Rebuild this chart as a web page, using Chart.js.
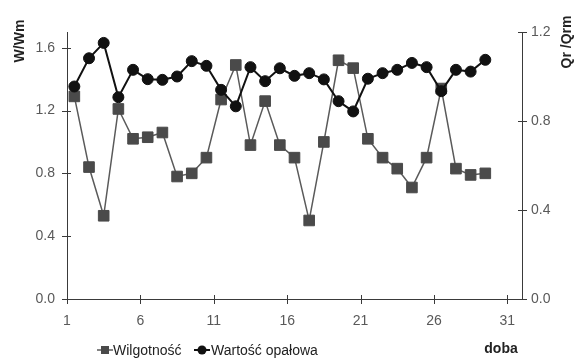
<!DOCTYPE html>
<html>
<head>
<meta charset="utf-8">
<script src="https://cdn.jsdelivr.net/npm/chart.js@4"></script>
<style>
  body { margin: 0; background: #fff; }
  #wrap { width: 577px; height: 361px; }
</style>
</head>
<body>
<div id="wrap"><canvas id="chart" width="577" height="361"></canvas></div>
<script>
// dni pomiaru
const days = [1, 2, 3, 4, 5, 6, 7, 8, 9, 10, 11, 12, 13, 14, 15, 16, 17, 18, 19, 20,
              21, 22, 23, 24, 25, 26, 27, 28, 29];
// W/Wm (oś lewa)
const wilgotnosc = [1.29, 0.84, 0.53, 1.21, 1.02, 1.03, 1.06, 0.78, 0.80, 0.90,
                    1.27, 1.49, 0.98, 1.26, 0.98, 0.90, 0.50, 1.00, 1.52, 1.47,
                    1.02, 0.90, 0.83, 0.71, 0.90, 1.34, 0.83, 0.79, 0.80];
// Qr/Qrm (oś prawa)
const wartoscOpalowa = [0.955, 1.082, 1.151, 0.907, 1.030, 0.988, 0.985, 1.000, 1.069, 1.048,
                        0.940, 0.866, 1.042, 0.979, 1.037, 1.003, 1.015, 0.987, 0.889, 0.843,
                        0.990, 1.015, 1.030, 1.061, 1.042, 0.934, 1.030, 1.022, 1.075];
const xTicks = [1, 6, 11, 16, 21, 26, 31];
const leftTicks = [0, 0.4, 0.8, 1.2, 1.6];
const rightTicks = [0, 0.4, 0.8, 1.2];

const FONT = "'Liberation Sans', Arial, sans-serif";
const tickColor = "#595959";
const axisColor = "#3a3a3a";

// dzień d leży w środku przedziału [d-0.5, d+0.5]
const toPoints = vals => days.map((d, i) => ({ x: d, y: vals[i] }));

// krzyżujące się znaczniki osi, tytuły osi i legenda
const decorations = {
    id: "decorations",
    afterDraw(chart) {
        const ctx = chart.ctx;
        const a = chart.chartArea;
        const { x, yL, yR } = chart.scales;
        ctx.save();
        ctx.strokeStyle = axisColor;
        ctx.lineWidth = 1;
        ctx.beginPath();
        x.ticks.forEach(t => {
            const px = Math.round(x.getPixelForValue(t.value)) + 0.5;
            ctx.moveTo(px, a.bottom - 4);
            ctx.lineTo(px, a.bottom + 5);
        });
        yL.ticks.forEach(t => {
            const py = Math.round(yL.getPixelForValue(t.value)) + 0.5;
            ctx.moveTo(a.left - 5, py);
            ctx.lineTo(a.left + 4, py);
        });
        yR.ticks.forEach(t => {
            const py = Math.round(yR.getPixelForValue(t.value)) + 0.5;
            ctx.moveTo(a.right - 4, py);
            ctx.lineTo(a.right + 5, py);
        });
        ctx.stroke();

        // tytuły osi
        ctx.fillStyle = "#222";
        ctx.font = "bold 14px " + FONT;
        ctx.textAlign = "center";
        ctx.textBaseline = "middle";
        ctx.save();
        ctx.translate(20, 41);
        ctx.rotate(-Math.PI / 2);
        ctx.fillText("W/Wm", 0, 0);
        ctx.restore();
        ctx.save();
        ctx.translate(567, 42);
        ctx.rotate(-Math.PI / 2);
        ctx.fillText("Qr /Qrm", 0, 0);
        ctx.restore();
        ctx.fillText("doba", 501, 349);

        // legenda
        const items = [
            { ds: chart.data.datasets[0], cx: 105, tx: 113 },
            { ds: chart.data.datasets[1], cx: 202, tx: 211 }
        ];
        ctx.font = "14px " + FONT;
        ctx.textAlign = "left";
        items.forEach(it => {
            const y = 350;
            ctx.strokeStyle = it.ds.borderColor;
            ctx.lineWidth = it.ds.borderWidth;
            ctx.beginPath();
            ctx.moveTo(it.cx - 8, y);
            ctx.lineTo(it.cx + 8, y);
            ctx.stroke();
            ctx.fillStyle = it.ds.pointBackgroundColor;
            if (it.ds.pointStyle === "rect") {
                ctx.fillRect(it.cx - 4, y - 4, 8, 8);
            } else {
                ctx.beginPath();
                ctx.arc(it.cx, y, 4.5, 0, Math.PI * 2);
                ctx.fill();
            }
            ctx.fillStyle = "#222";
            ctx.fillText(it.ds.label, it.tx, y + 1);
        });
        ctx.restore();
    }
};

new Chart(document.getElementById("chart"), {
    type: "line",
    data: {
        datasets: [{
            label: "Wilgotność",
            data: toPoints(wilgotnosc),
            yAxisID: "yL",
            order: 2,
            borderColor: "#5a5a5a",
            borderWidth: 1.5,
            pointStyle: "rect",
            pointRadius: 7.5,
            pointBackgroundColor: "#4a4a4a",
            pointBorderColor: "#4a4a4a",
            pointBorderWidth: 1,
            tension: 0
        }, {
            label: "Wartość opałowa",
            data: toPoints(wartoscOpalowa),
            yAxisID: "yR",
            order: 1,
            borderColor: "#111",
            borderWidth: 2,
            pointStyle: "circle",
            pointRadius: 5.5,
            pointBackgroundColor: "#111",
            pointBorderColor: "#111",
            pointBorderWidth: 1,
            tension: 0
        }]
    },
    options: {
        responsive: false,
        animation: false,
        layout: { padding: { top: 32 } },
        plugins: { legend: { display: false }, tooltip: { enabled: false } },
        scales: {
            x: {
                type: "linear",
                min: 0.5,
                max: 31.5,
                afterBuildTicks: s => { s.ticks = xTicks.map(v => ({ value: v - 0.5 })); },
                afterFit: s => { s.height = 62; },
                grid: { drawOnChartArea: false, drawTicks: false },
                border: { color: axisColor, width: 1 },
                ticks: {
                    padding: 14,
                    color: tickColor,
                    font: { family: FONT, size: 14 },
                    maxRotation: 0,
                    callback: v => String(Math.round(v + 0.5))
                }
            },
            yL: {
                position: "left",
                min: 0,
                max: 1.7,
                afterBuildTicks: s => { s.ticks = leftTicks.map(v => ({ value: v })); },
                afterFit: s => { s.width = 67; },
                grid: { drawOnChartArea: false, drawTicks: false },
                border: { color: axisColor, width: 1 },
                ticks: {
                    padding: 12,
                    color: tickColor,
                    font: { family: FONT, size: 14 },
                    callback: v => v.toFixed(1)
                }
            },
            yR: {
                position: "right",
                min: 0,
                max: 1.2,
                afterBuildTicks: s => { s.ticks = rightTicks.map(v => ({ value: v })); },
                afterFit: s => { s.width = 55; },
                grid: { drawOnChartArea: false, drawTicks: false },
                border: { color: axisColor, width: 1 },
                ticks: {
                    padding: 9,
                    color: tickColor,
                    font: { family: FONT, size: 14 },
                    callback: v => v.toFixed(1)
                }
            }
        }
    },
    plugins: [decorations]
});
</script>
</body>
</html>
